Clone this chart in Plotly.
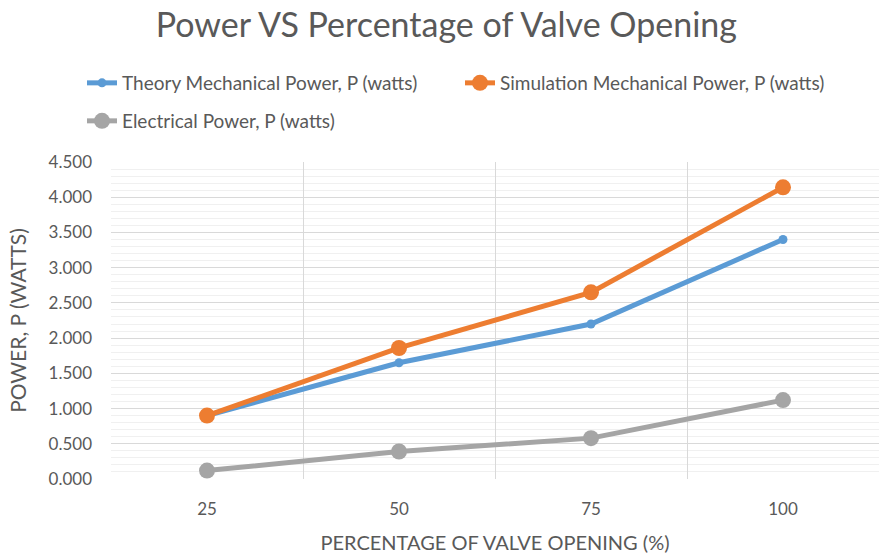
import plotly.graph_objects as go

# Valve opening categories (%)
valve_opening = ["25", "50", "75", "100"]

# Power readings in watts
theory_power = [0.90, 1.65, 2.20, 3.40]
simulation_power = [0.90, 1.86, 2.65, 4.14]
electrical_power = [0.12, 0.39, 0.58, 1.12]

y_ticks = [0.0, 0.5, 1.0, 1.5, 2.0, 2.5, 3.0, 3.5, 4.0, 4.5]
y_tick_labels = [f"{v:.3f}" for v in y_ticks]

TEXT = "#595959"
FONT = "Lato, Open Sans, sans-serif"

fig = go.Figure()
fig.add_trace(go.Scatter(
    x=valve_opening, y=theory_power, mode="lines+markers",
    name="Theory Mechanical Power, P (watts)",
    line=dict(color="#5B9BD5", width=5),
    marker=dict(color="#5B9BD5", size=9),
    legend="legend",
))
fig.add_trace(go.Scatter(
    x=valve_opening, y=simulation_power, mode="lines+markers",
    name="Simulation Mechanical Power, P (watts)",
    line=dict(color="#ED7D31", width=5),
    marker=dict(color="#ED7D31", size=16),
    legend="legend",
))
fig.add_trace(go.Scatter(
    x=valve_opening, y=electrical_power, mode="lines+markers",
    name="Electrical Power, P (watts)",
    line=dict(color="#A5A5A5", width=5),
    marker=dict(color="#A5A5A5", size=16),
    legend="legend2",
))

legend_common = dict(
    orientation="h", xref="container", yref="container",
    xanchor="left", yanchor="middle",
    font=dict(family=FONT, size=19, color=TEXT),
    itemwidth=30, bgcolor="rgba(0,0,0,0)",
)

fig.update_layout(
    width=884, height=554,
    margin=dict(l=111, r=5, t=162, b=75, autoexpand=False),
    paper_bgcolor="white", plot_bgcolor="white",
    font=dict(family=FONT, color=TEXT),
    title=dict(
        text="Power VS Percentage of Valve Opening",
        x=0.505, xanchor="center", y=0.955, yanchor="middle",
        font=dict(family=FONT, size=34, color=TEXT),
    ),
    legend=dict(x=82 / 884, y=1 - 83 / 554, entrywidth=333, **legend_common),
    legend2=dict(x=82 / 884, y=1 - 121 / 554, **legend_common),
    xaxis=dict(
        type="category", tickson="boundaries", range=[-0.5, 3.5],
        showgrid=True, gridcolor="#d9d9d9", gridwidth=1,
        ticks="", showline=False, zeroline=False, automargin=False,
        ticklabelstandoff=18,
        tickfont=dict(family=FONT, size=17, color=TEXT),
        title=dict(text="PERCENTAGE OF VALVE OPENING (%)",
                   font=dict(family=FONT, size=20, color=TEXT), standoff=18),
    ),
    yaxis=dict(
        range=[0, 4.5], tickvals=y_ticks, ticktext=y_tick_labels,
        showgrid=True, gridcolor="#d9d9d9", gridwidth=1,
        zeroline=False, showline=False, ticks="", automargin=False,
        ticklabelstandoff=18,
        tickfont=dict(family=FONT, size=17, color=TEXT),
        minor=dict(dtick=0.1, showgrid=True, gridcolor="#f0f0f0", gridwidth=1),
        title=dict(text="POWER, P (WATTS)",
                   font=dict(family=FONT, size=21, color=TEXT), standoff=16),
    ),
)

fig.write_html("out.html")
